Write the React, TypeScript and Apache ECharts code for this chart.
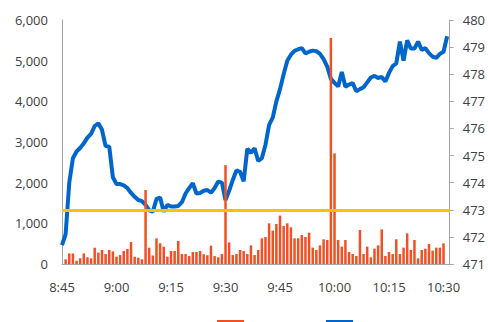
import React, { useEffect, useRef } from "react";
import * as echarts from "echarts";

// minute offsets from 8:45, one value per minute
const timeLabels = ["8:45", "9:00", "9:15", "9:30", "9:45", "10:00", "10:15", "10:30"];

const volume = [
  0, 115, 260, 260, 80, 140, 260, 165, 140, 400,
  280, 345, 245, 345, 310, 180, 220, 320, 370, 540,
  180, 155, 115, 1820, 400, 210, 630, 510, 425, 180,
  320, 320, 565, 245, 245, 195, 295, 295, 320, 240,
  215, 450, 195, 165, 245, 2430, 530, 220, 245, 345,
  320, 246, 459, 221, 344, 631, 664, 1000, 820, 984,
  1189, 934, 1000, 902, 631, 631, 713, 664, 770, 402,
  344, 459, 607, 590, 5560, 2720, 590, 426, 590, 295,
  246, 197, 836, 246, 426, 164, 377, 459, 852, 197,
  295, 246, 607, 246, 402, 754, 344, 590, 139, 344,
  377, 492, 328, 402, 402, 508,
];

const price = [
  471.7, 472.1, 474.0, 474.9, 475.15, 475.28, 475.45, 475.66, 475.8, 476.09,
  476.19, 475.95, 475.35, 475.33, 474.2, 473.95, 473.95, 473.9, 473.8, 473.62,
  473.48, 473.36, 473.32, 473.18, 472.98, 472.93, 473.4, 473.45, 472.93, 473.18,
  473.12, 473.12, 473.14, 473.28, 473.6, 473.8, 473.98, 473.6, 473.62, 473.7,
  473.73, 473.63, 473.8, 474.04, 474.0, 473.36, 473.7, 474.1, 474.45, 474.4,
  474.05, 475.25, 475.1, 475.27, 474.8, 474.9, 475.4, 476.13, 476.4, 477.0,
  477.45, 478.0, 478.5, 478.72, 478.86, 478.92, 478.96, 478.77, 478.83, 478.87,
  478.85, 478.75, 478.56, 478.28, 477.83, 477.68, 477.55, 478.08, 477.54, 477.62,
  477.67, 477.37, 477.45, 477.52, 477.7, 477.88, 477.94, 477.86, 477.9, 477.73,
  478.05, 478.3, 478.4, 479.2, 478.5, 479.25, 478.95, 478.95, 479.2, 478.9,
  478.96, 478.78, 478.65, 478.6, 478.75, 478.83, 479.4,
];

const referencePrice = 473;

export default function App() {
  const ref = useRef<HTMLDivElement>(null);
  useEffect(() => {
    document.body.style.margin = "0";
    const chart = echarts.init(ref.current!, null, { renderer: "svg" });
    const font = "Open Sans";
    const labelColor = "#404040";
    const axisLineColor = "#A6A6A6";
    chart.setOption({
      animation: false,
      grid: { left: 62, right: 38, top: 20, bottom: 58 },
      legend: {
        left: 217,
        top: 320,
        padding: 0,
        itemWidth: 27,
        itemHeight: 8,
        itemGap: 82,
        icon: "rect",
        formatter: () => "",
        data: ["Volume", "Price"],
      },
      xAxis: {
        type: "value",
        min: 0,
        max: 106.7,
        interval: 15,
        axisLine: { show: true, lineStyle: { color: axisLineColor } },
        axisTick: { show: false },
        splitLine: { show: false },
        axisLabel: {
          margin: 16,
          fontFamily: font,
          fontSize: 13,
          color: labelColor,
          formatter: (v: number) => (v % 15 === 0 ? timeLabels[v / 15] ?? "" : ""),
        },
      },
      yAxis: [
        {
          type: "value",
          min: 0,
          max: 6000,
          interval: 1000,
          axisLine: { show: true, lineStyle: { color: axisLineColor } },
          axisTick: { show: false },
          splitLine: { show: false },
          axisLabel: {
            margin: 14,
            fontFamily: font,
            fontSize: 13,
            color: labelColor,
            formatter: (v: number) => v.toLocaleString("en-US"),
          },
        },
        {
          type: "value",
          min: 471,
          max: 480,
          interval: 1,
          position: "right",
          axisLine: { show: true, lineStyle: { color: axisLineColor } },
          axisTick: { show: true, length: 4, lineStyle: { color: axisLineColor } },
          splitLine: { show: false },
          axisLabel: {
            margin: 13,
            fontFamily: font,
            fontSize: 13,
            color: labelColor,
          },
        },
      ],
      series: [
        {
          name: "Price",
          type: "line",
          yAxisIndex: 1,
          z: 2,
          data: price.map((v, i) => [i, v]),
          symbol: "none",
          lineStyle: { color: "#0066CC", width: 4 },
          itemStyle: { color: "#0066CC" },
          markLine: {
            silent: true,
            symbol: "none",
            label: { show: false },
            lineStyle: { color: "#FFC000", width: 3, type: "solid" },
            data: [{ yAxis: referencePrice }],
          },
        },
        {
          name: "Volume",
          type: "bar",
          yAxisIndex: 0,
          z: 3,
          barWidth: 2.5,
          data: volume.map((v, i) => [i, v]),
          itemStyle: { color: "#F05023" },
        },
      ],
    });
    return () => chart.dispose();
  }, []);
  return <div ref={ref} style={{ width: 488, height: 322 }} />;
}
